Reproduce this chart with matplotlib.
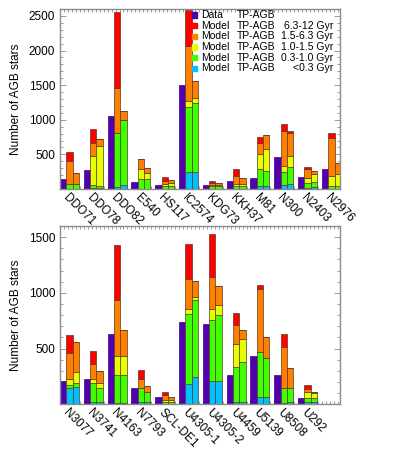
import numpy as np
import matplotlib
matplotlib.use("Agg")
from matplotlib import pyplot as plt
from matplotlib.patches import Rectangle
from matplotlib.ticker import MultipleLocator, FixedLocator

##### DATA #####
age_bins = ["<0.3 Gyr", "0.3-1.0 Gyr", "1.0-1.5 Gyr", "1.5-6.3 Gyr", "6.3-12 Gyr"]

top_names = ["DDO71", "DDO78", "DDO82", "E540", "HS117", "IC2574",
             "KDG73", "KKH37", "M81", "N300", "N2403", "N2976"]
top_data = [145, 275, 1050, 95, 60, 1500, 60, 115, 155, 465, 180, 295]
# model bins: <0.3, 0.3-1.0, 1.0-1.5, 1.5-6.3, 6.3-12 Gyr
top_model_a = [
    [5, 61, 0, 342, 120],
    [10, 42, 428, 178, 202],
    [30, 782, 0, 650, 1098],
    [5, 138, 140, 153, 0],
    [5, 32, 34, 43, 53],
    [249, 930, 91, 799, 521],
    [3, 34, 24, 29, 24],
    [3, 39, 34, 115, 97],
    [42, 246, 211, 169, 87],
    [56, 183, 96, 496, 102],
    [8, 72, 73, 130, 33],
    [5, 37, 144, 549, 72],
]
top_model_b = [
    [5, 61, 0, 159, 0],
    [10, 27, 588, 96, 0],
    [60, 930, 0, 136, 0],
    [5, 133, 92, 71, 0],
    [3, 39, 38, 49, 0],
    [249, 988, 81, 241, 0],
    [3, 34, 19, 24, 0],
    [3, 39, 34, 77, 0],
    [42, 211, 328, 198, 0],
    [66, 246, 168, 322, 39],
    [27, 77, 111, 43, 0],
    [5, 37, 168, 163, 0],
]

bot_names = ["N3077", "N3741", "N4163", "N7793", "SCL-DE1", "U4305-1",
             "U4305-2", "U4459", "U5139", "U8508", "U292"]
bot_data = [210, 228, 635, 145, 62, 738, 717, 260, 437, 264, 56]
bot_model_a = [
    [150, 25, 55, 234, 158],
    [22, 165, 36, 142, 115],
    [12, 255, 166, 504, 491],
    [24, 118, 0, 81, 89],
    [5, 19, 14, 45, 27],
    [181, 631, 41, 271, 313],
    [208, 550, 98, 283, 387],
    [24, 315, 199, 172, 111],
    [62, 408, 0, 562, 39],
    [9, 134, 0, 368, 122],
    [24, 35, 51, 30, 32],
]
bot_model_b = [
    [157, 30, 104, 269, 0],
    [20, 130, 37, 110, 0],
    [9, 258, 167, 235, 0],
    [24, 86, 0, 54, 0],
    [5, 19, 14, 24, 0],
    [241, 696, 23, 149, 0],
    [208, 592, 89, 173, 0],
    [24, 360, 205, 74, 0],
    [62, 357, 0, 188, 0],
    [20, 123, 0, 187, 0],
    [24, 29, 51, 9, 0],
]
################

data_color = "#5000b0"
bin_colors = ["#00c0ff", "#40ff00", "#e6ff00", "#ff8000", "#ff0000"]
frame_color = "#8c8c8c"
bw = 0.265

plt.rcParams["font.family"] = ["Liberation Sans", "DejaVu Sans"]
fig = plt.figure(figsize=(4, 4.5), dpi=100)
ax1 = fig.add_axes([0.15, 0.580, 0.70, 0.400])
ax2 = fig.add_axes([0.15, 0.1016, 0.70, 0.396])


def draw_panel(ax, names, data, model_a, model_b, ymax, yticks):
    x = np.arange(len(names))
    ax.bar(x, data, width=bw, align="edge", color=data_color,
           edgecolor="#3a007a", linewidth=0.5, zorder=2)
    for off, model in ((bw, model_a), (2 * bw, model_b)):
        m = np.array(model, dtype=float)
        bottom = np.zeros(len(names))
        for k in range(m.shape[1]):
            ax.bar(x + off, m[:, k], width=bw, bottom=bottom, align="edge",
                   color=bin_colors[k], edgecolor="#5a3a20", linewidth=0.5,
                   zorder=2)
            bottom += m[:, k]

    ax.set_xlim(0, 11.76)
    ax.set_ylim(0, ymax)
    ax.set_axisbelow(True)

    ax.set_xticks(x + 0.22)
    ax.set_xticklabels(names, rotation=-45, ha="left", va="center",
                       rotation_mode="anchor", fontsize=8.5)
    ax.xaxis.set_minor_locator(MultipleLocator(1 / 6))
    ax.tick_params(axis="x", which="major", length=0, pad=5)
    ax.tick_params(axis="x", which="minor", direction="in", length=2.5,
                   top=True, bottom=True, color=frame_color, width=0.6)

    ax.yaxis.set_major_locator(FixedLocator(yticks))
    ax.yaxis.set_minor_locator(MultipleLocator(100))
    ax.tick_params(axis="y", which="both", direction="in", left=True,
                   right=True, color=frame_color, width=0.6, labelsize=8.5)
    ax.tick_params(axis="y", which="major", length=4.5)
    ax.tick_params(axis="y", which="minor", length=2.5)
    ax.set_ylabel("Number of AGB stars", fontsize=8.5, labelpad=5)

    for s in ax.spines.values():
        s.set_color(frame_color)
        s.set_linewidth(1.0)


draw_panel(ax1, top_names, top_data, top_model_a, top_model_b, 2600,
           [500, 1000, 1500, 2000, 2500])
draw_panel(ax2, bot_names, bot_data, bot_model_a, bot_model_b, 1600,
           [500, 1000, 1500])

# legend
rows = [("Data", "TP-AGB", "", data_color)]
for lab, col in zip(age_bins[::-1], bin_colors[::-1]):
    rows.append(("Model", "TP-AGB", lab, col))
y0, dy = 0.967, 0.0595
for i, (a, b, c, col) in enumerate(rows):
    y = y0 - i * dy
    ax1.add_patch(Rectangle((0.470, y - 0.015), 0.02, 0.03,
                            transform=ax1.transAxes, color=col,
                            clip_on=False, zorder=5))
    ax1.text(0.505, y, a, transform=ax1.transAxes, fontsize=7.5, va="center")
    ax1.text(0.630, y, b, transform=ax1.transAxes, fontsize=7.5, va="center")
    if c:
        ax1.text(0.975, y, c, transform=ax1.transAxes, fontsize=7.5,
                 va="center", ha="right")

fig.savefig("out.png", dpi=100)
